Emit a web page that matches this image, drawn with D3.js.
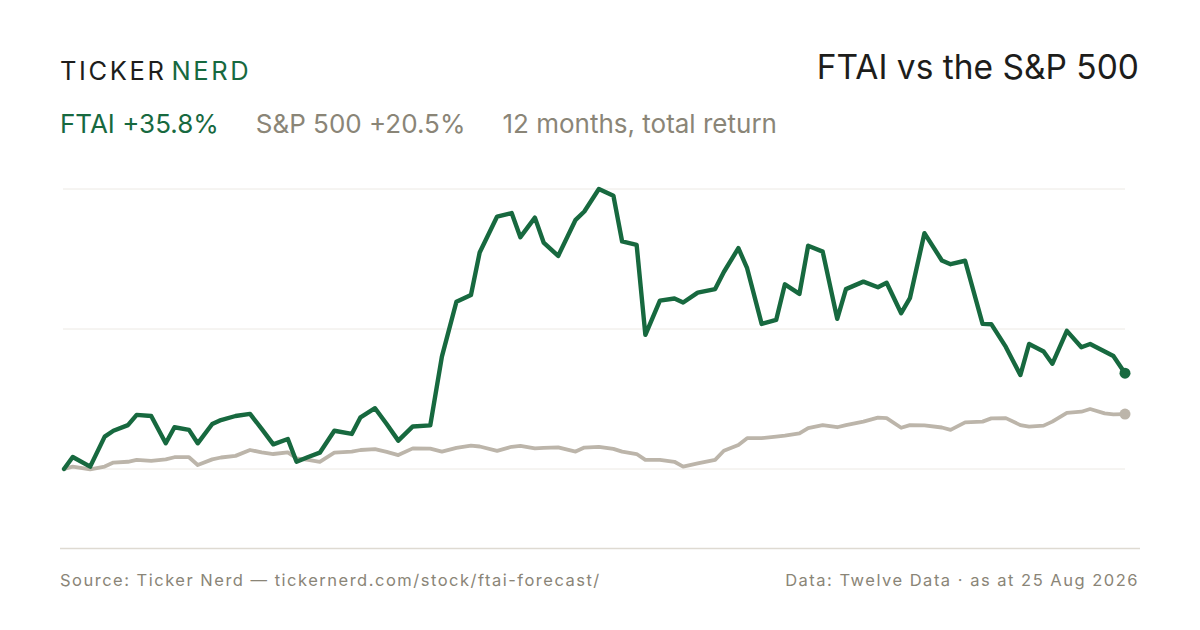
<!DOCTYPE html>
<html>
<head>
<meta charset="utf-8">
<script src="https://cdn.jsdelivr.net/npm/d3@7"></script>
<style>
  html, body { margin: 0; padding: 0; background: #fff; }
  svg { display: block; font-family: Inter, "Noto Sans", sans-serif; }
</style>
</head>
<body>
<svg id="chart"></svg>
<script>
// Sample dates (every ~3 trading days, 12 months to 25 Aug 2026)
const dates = [
  "2025-08-25","2025-08-28","2025-09-03","2025-09-08","2025-09-11","2025-09-16","2025-09-19","2025-09-24",
  "2025-09-29","2025-10-02","2025-10-07","2025-10-10","2025-10-15","2025-10-18","2025-10-23","2025-10-28",
  "2025-11-01","2025-11-05","2025-11-10","2025-11-13","2025-11-17","2025-11-21","2025-11-26","2025-12-02",
  "2025-12-05","2025-12-10","2025-12-14","2025-12-18","2025-12-23","2025-12-29","2026-01-02","2026-01-07",
  "2026-01-12","2026-01-15","2026-01-21","2026-01-26","2026-01-29","2026-02-03","2026-02-06","2026-02-11",
  "2026-02-17","2026-02-20","2026-02-25","2026-03-02","2026-03-05","2026-03-10","2026-03-13","2026-03-18",
  "2026-03-23","2026-03-26","2026-03-31","2026-04-06","2026-04-09","2026-04-14","2026-04-17","2026-04-22",
  "2026-04-27","2026-04-30","2026-05-05","2026-05-08","2026-05-13","2026-05-18","2026-05-21","2026-05-27",
  "2026-06-01","2026-06-04","2026-06-09","2026-06-12","2026-06-17","2026-06-23","2026-06-26","2026-07-01",
  "2026-07-07","2026-07-10","2026-07-15","2026-07-20","2026-07-23","2026-07-28","2026-07-31","2026-08-05",
  "2026-08-10","2026-08-13","2026-08-18","2026-08-21","2026-08-25"
];

// Total return since start, %
const ftai = [
  0, 4.5, 0.9, 12.1, 14.3, 16.4, 20.2, 19.8,
  9.6, 15.6, 14.6, 9.6, 16.8, 18.3, 19.8, 20.6,
  15.0, 9.2, 11.2, 2.7, 4.5, 6.1, 14.3, 13.1,
  19.3, 22.7, 16.8, 10.6, 15.9, 16.3, 42.0, 62.5,
  65.0, 80.9, 94.3, 95.6, 86.6, 93.9, 84.6, 79.6,
  93.1, 96.2, 104.6, 102.1, 85.0, 83.7, 50.1, 62.9,
  63.7, 62.2, 65.9, 67.2, 73.6, 82.5, 75.0, 54.2,
  55.7, 69.0, 65.4, 83.4, 81.2, 56.1, 67.2, 70.0,
  67.9, 69.6, 58.2, 63.8, 88.1, 77.9, 76.5, 77.8,
  54.2, 54.1, 45.6, 35.1, 46.7, 43.9, 39.3, 51.6,
  45.5, 46.7, 43.9, 42.2, 35.8
];

const spx = [
  0, 0.9, -0.1, 0.9, 2.4, 2.7, 3.4, 3.0,
  3.6, 4.4, 4.4, 1.5, 3.6, 4.3, 4.9, 7.1,
  6.2, 5.6, 6.2, 4.0, 3.4, 2.7, 6.1, 6.5,
  7.1, 7.4, 6.4, 5.2, 7.7, 7.6, 6.5, 7.9,
  8.7, 8.4, 6.8, 8.3, 8.6, 7.7, 7.9, 8.1,
  6.5, 8.0, 8.3, 7.5, 6.5, 5.6, 3.4, 3.4,
  2.7, 0.9, 2.1, 3.4, 6.8, 9.0, 11.5, 11.5,
  12.1, 12.5, 13.3, 15.3, 16.4, 15.6, 16.4, 17.7,
  19.2, 19.0, 15.4, 16.4, 16.3, 15.5, 14.6, 17.4,
  17.7, 18.9, 19.0, 16.4, 15.8, 16.2, 17.7, 21.0,
  21.4, 22.4, 20.8, 20.4, 20.5
];

const brand = ["TICKER", "NERD"];
const title = "FTAI vs the S&P 500";
const subtitle = ["FTAI +35.8%", "S&P 500 +20.5%", "12 months, total return"];
const sourceText = "Source: Ticker Nerd \u2014 tickernerd.com/stock/ftai-forecast/";
const dataText = "Data: Twelve Data \u00b7 as at 25 Aug 2026";

const W = 1200, H = 630;
const green = "#17693f", grey = "#bcb5aa", textGrey = "#8a8577", grid = "#ece9e4";

const parse = d3.timeParse("%Y-%m-%d");
const rows = dates.map((d, i) => ({date: parse(d), ftai: ftai[i], spx: spx[i]}));

const svg = d3.select("#chart").attr("width", W).attr("height", H);

// Header
const logo = svg.append("text").attr("x", 60).attr("y", 80)
    .attr("font-size", 25.5).attr("letter-spacing", 2.6);
logo.append("tspan").attr("fill", "#1d1d1b").text(brand[0]);
logo.append("tspan").attr("fill", green).attr("dx", 5).text(brand[1]);

svg.append("text").attr("x", 1139).attr("y", 79).attr("text-anchor", "end")
    .attr("font-size", 33.5).attr("fill", "#1d1d1b").text(title);

const sub = svg.append("text").attr("x", 60).attr("y", 133).attr("font-size", 26);
sub.append("tspan").attr("fill", green).text(subtitle[0]);
sub.append("tspan").attr("fill", textGrey).attr("dx", 37).text(subtitle[1]);
sub.append("tspan").attr("fill", textGrey).attr("dx", 37).text(subtitle[2]);

// Scales
const x = d3.scaleTime()
    .domain(d3.extent(rows, d => d.date))
    .range([64, 1125]);

const yMax = d3.max(ftai);
const y = d3.scaleLinear()
    .domain([0, yMax])
    .range([469, 189]);

// Gridlines
svg.append("g").selectAll("line")
  .data([0, yMax / 2, yMax])
  .join("line")
    .attr("x1", 63).attr("x2", 1125)
    .attr("y1", d => y(d)).attr("y2", d => y(d))
    .attr("stroke", grid).attr("stroke-width", 1);

const line = key => d3.line()
    .x(d => x(d.date))
    .y(d => y(d[key]));

svg.append("path").datum(rows)
    .attr("fill", "none").attr("stroke", grey).attr("stroke-width", 3.8)
    .attr("stroke-linejoin", "round").attr("stroke-linecap", "round")
    .attr("d", line("spx"));

svg.append("path").datum(rows)
    .attr("fill", "none").attr("stroke", green).attr("stroke-width", 4.4)
    .attr("stroke-linejoin", "round").attr("stroke-linecap", "round")
    .attr("d", line("ftai"));

const last = rows[rows.length - 1];
svg.append("circle").attr("cx", x(last.date)).attr("cy", y(last.spx))
    .attr("r", 5.5).attr("fill", grey);
svg.append("circle").attr("cx", x(last.date)).attr("cy", y(last.ftai))
    .attr("r", 5.5).attr("fill", green);

// Footer
svg.append("line").attr("x1", 60).attr("x2", 1140).attr("y1", 548.5).attr("y2", 548.5)
    .attr("stroke", "#dedad2").attr("stroke-width", 1.5);

svg.append("text").attr("x", 60).attr("y", 586).attr("font-size", 16.5)
    .attr("letter-spacing", 1.5).attr("fill", textGrey).text(sourceText);
svg.append("text").attr("x", 1139).attr("y", 586).attr("text-anchor", "end")
    .attr("font-size", 16.5).attr("letter-spacing", 1.5).attr("fill", textGrey).text(dataText);
</script>
</body>
</html>
